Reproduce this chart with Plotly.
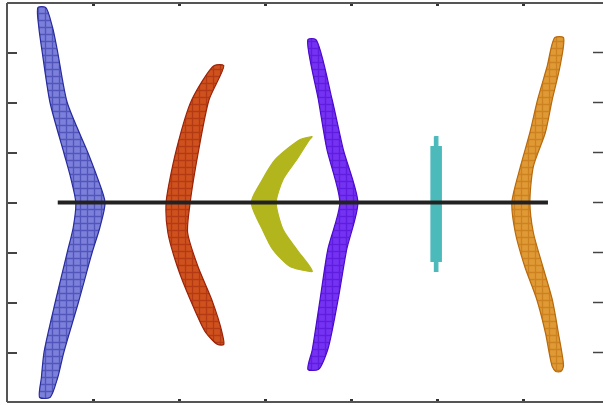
import plotly.graph_objects as go

# Lens cross-sections along the optical axis.
# Each element: sample heights (y) and the left / right surface positions (x) at those heights.

blue_y = [3.9, 3.5, 3.0, 2.0, 1.0, 0.5, 0.0, -0.5, -1.0, -2.0, -3.0, -3.5, -3.9]
blue_left = [0.36, 0.37, 0.41, 0.50, 0.66, 0.74, 0.80, 0.77, 0.70, 0.56, 0.43, 0.40, 0.38]
blue_right = [0.45, 0.53, 0.59, 0.70, 0.94, 1.05, 1.14, 1.08, 0.99, 0.83, 0.66, 0.59, 0.50]

red_y = [2.74, 2.06, 1.06, 0.0, -0.6, -1.28, -1.94, -2.6, -2.84]
red_left = [2.41, 2.15, 1.97, 1.85, 1.87, 1.98, 2.13, 2.31, 2.45]
red_right = [2.52, 2.35, 2.23, 2.13, 2.10, 2.22, 2.38, 2.50, 2.52]

yellow_y = [1.32, 1.26, 0.86, 0.46, 0.0, -0.54, -0.94, -1.28, -1.38]
yellow_left = [3.55, 3.41, 3.12, 2.97, 2.84, 2.97, 3.09, 3.29, 3.52]
yellow_right = [3.55, 3.52, 3.37, 3.21, 3.13, 3.21, 3.37, 3.52, 3.55]

purple_y = [3.26, 2.06, 1.06, 0.0, -0.94, -1.94, -2.94, -3.34]
purple_left = [3.50, 3.62, 3.72, 3.87, 3.73, 3.64, 3.55, 3.50]
purple_right = [3.59, 3.78, 3.91, 4.08, 3.95, 3.85, 3.73, 3.62]

cyan_y = [1.32, 1.12, 1.12, -1.18, -1.18, -1.38]
cyan_left = [4.97, 4.97, 4.93, 4.93, 4.97, 4.97]
cyan_right = [5.01, 5.01, 5.05, 5.05, 5.01, 5.01]

orange_y = [3.30, 2.72, 2.06, 1.40, 0.72, 0.0, -0.6, -1.28, -1.94, -2.6, -3.28, -3.38]
orange_left = [6.37, 6.28, 6.17, 6.08, 5.97, 5.87, 5.91, 6.02, 6.16, 6.26, 6.34, 6.38]
orange_right = [6.47, 6.43, 6.34, 6.26, 6.12, 6.08, 6.12, 6.23, 6.34, 6.41, 6.47, 6.44]

axis_x = [0.59, 6.29]
axis_y = [0.0, 0.0]

x_ticks = [1, 2, 3, 4, 5, 6]
y_ticks = [-4, -3, -2, -1, 0, 1, 2, 3, 4]

# (heights, left surface, right surface, edge colour, fill colour, gridded, smooth)
lenses = [
    (blue_y, blue_left, blue_right, "#272b9c", "#7c80da", True, True),
    (red_y, red_left, red_right, "#9a2208", "#cf521e", True, True),
    (yellow_y, yellow_left, yellow_right, "#b2b51c", "#b2b51c", False, True),
    (purple_y, purple_left, purple_right, "#4a0acc", "#7532f2", True, True),
    (cyan_y, cyan_left, cyan_right, "#4cbaba", "#4cbaba", False, False),
    (orange_y, orange_left, orange_right, "#b8690c", "#e09a35", True, True),
]

fig = go.Figure()

for ys, left, right, dark, light, textured, smooth in lenses:
    px = list(left) + list(reversed(right)) + [left[0]]
    py = list(ys) + list(reversed(ys)) + [ys[0]]
    line = dict(color=dark, width=1.2)
    if smooth:
        line.update(shape="spline", smoothing=0.7)
    kwargs = dict(
        x=px, y=py, mode="lines", fill="toself", fillcolor=light,
        line=line, hoverinfo="skip", showlegend=False,
    )
    if textured:
        kwargs["fillpattern"] = dict(shape="+", fgcolor=dark, bgcolor=light,
                                     size=7, solidity=0.35)
    fig.add_trace(go.Scatter(**kwargs))

# optical axis, added last so it sits above the lenses
fig.add_trace(go.Scatter(
    x=axis_x, y=axis_y, mode="lines",
    line=dict(color="#222222", width=4),
    hoverinfo="skip", showlegend=False,
))

x_range = [0, 6.93]
y_range = [-3.99, 3.99]

frame = dict(color="#555555", width=2)
# box on the left, top and bottom only
fig.add_shape(type="line", xref="paper", yref="paper", x0=0, x1=0, y0=0, y1=1, line=frame)
fig.add_shape(type="line", xref="paper", yref="paper", x0=0, x1=1, y0=1, y1=1, line=frame)
fig.add_shape(type="line", xref="paper", yref="paper", x0=0, x1=1, y0=0, y1=0, line=frame)

# inward tick marks along the right edge
plot_w = 603 - 7
for yv in y_ticks:
    fig.add_shape(type="line", xref="paper", yref="y",
                  x0=1 - 10 / plot_w, x1=1, y0=yv, y1=yv,
                  line=dict(color="#444444", width=1.5))

fig.update_layout(
    width=603, height=405,
    margin=dict(l=7, r=0, t=3, b=3),
    paper_bgcolor="white", plot_bgcolor="white",
    xaxis=dict(
        range=x_range, tickvals=x_ticks, showticklabels=False,
        showgrid=False, zeroline=False, showline=False, mirror="ticks",
        ticks="inside", ticklen=3, tickwidth=3, tickcolor="#333333",
    ),
    yaxis=dict(
        range=y_range, tickvals=y_ticks, showticklabels=False,
        showgrid=False, zeroline=False, showline=False,
        ticks="inside", ticklen=10, tickwidth=1.5, tickcolor="#444444",
    ),
)

fig.write_html("out.html")
